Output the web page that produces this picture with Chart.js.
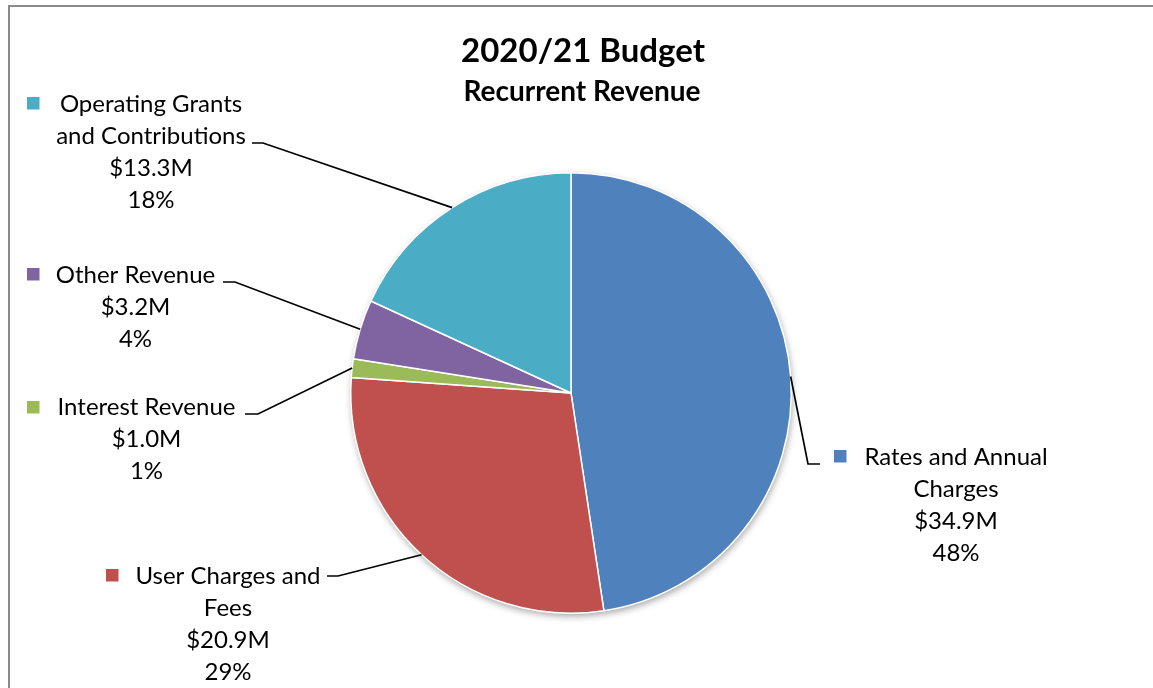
<!DOCTYPE html>
<html>
<head>
<meta charset="utf-8">
<title>2020/21 Budget - Recurrent Revenue</title>
<script src="https://cdn.jsdelivr.net/npm/chart.js@4/dist/chart.umd.min.js"></script>
<style>
  html, body { margin: 0; padding: 0; background: #ffffff; }
  #wrap { width: 1153px; height: 688px; position: relative; }
  canvas { display: block; }
</style>
</head>
<body>
<div id="wrap"><canvas id="chart" width="1153" height="688"></canvas></div>
<script>
// Revenue categories, in drawing order (clockwise from 12 o'clock)
const categories = [
  'Rates and Annual Charges',
  'User Charges and Fees',
  'Interest Revenue',
  'Other Revenue',
  'Operating Grants and Contributions'
];
// Wrapped label text for each category
const labelLines = [
  ['Rates and Annual', 'Charges'],
  ['User Charges and', 'Fees'],
  ['Interest Revenue'],
  ['Other Revenue'],
  ['Operating Grants', 'and Contributions']
];
// Amounts in $ millions
const revenueMillions = [34.9, 20.9, 1.0, 3.2, 13.3];
const sliceColors = ['#4F81BD', '#C0504D', '#9BBB59', '#8064A2', '#4BACC6'];

const titleText = '2020/21 Budget';
const subtitleText = 'Recurrent Revenue';

// Where each callout sits: text centre x, first line centre y,
// leader elbow point and leader end point next to the text.
const calloutLayout = [
  { cx: 956,   y: 457, elbow: [808, 464], end: [820, 464], keyX: 834, keyY: 450 },
  { cx: 228,   y: 576, elbow: [338, 576], end: [327, 576], keyX: 106, keyY: 569 },
  { cx: 146.5, y: 407, elbow: [258, 414], end: [245, 414], keyX: 27,  keyY: 401 },
  { cx: 135.5, y: 275, elbow: [235, 282], end: [223, 282], keyX: 27,  keyY: 268 },
  { cx: 151,   y: 104, elbow: [263, 143], end: [252, 143], keyX: 27,  keyY: 97 }
];

const FONT = 'Lato, "Liberation Sans", sans-serif';
const total = revenueMillions.reduce((a, b) => a + b, 0);

// Soft drop shadow under the pie
const pieShadow = {
  id: 'pieShadow',
  beforeDatasetsDraw(chart) {
    const arc = chart.getDatasetMeta(0).data[0];
    if (!arc) return;
    const ctx = chart.ctx;
    ctx.save();
    ctx.shadowColor = 'rgba(0,0,0,0.35)';
    ctx.shadowBlur = 7;
    ctx.shadowOffsetX = 1;
    ctx.shadowOffsetY = 3;
    ctx.fillStyle = '#ffffff';
    ctx.beginPath();
    ctx.arc(arc.x, arc.y, arc.outerRadius, 0, Math.PI * 2);
    ctx.fill();
    ctx.restore();
  }
};

// Frame, titles and callout labels with leader lines
const decorations = {
  id: 'decorations',
  beforeDraw(chart) {
    const ctx = chart.ctx;
    ctx.save();
    ctx.fillStyle = '#ffffff';
    ctx.fillRect(0, 0, chart.width, chart.height);
    ctx.strokeStyle = '#8a8a8a';
    ctx.lineWidth = 2;
    ctx.strokeRect(9, 6, chart.width + 20, chart.height + 20);
    ctx.restore();
  },
  afterDatasetsDraw(chart) {
    const ctx = chart.ctx;
    const meta = chart.getDatasetMeta(0);
    ctx.save();
    ctx.fillStyle = '#000000';
    ctx.textAlign = 'center';
    ctx.textBaseline = 'middle';
    ctx.font = 'bold 33px ' + FONT;
    ctx.fillText(titleText, 583, 51);
    ctx.font = 'bold 28px ' + FONT;
    ctx.fillText(subtitleText, 582, 92);

    meta.data.forEach((arc, i) => {
      const L = calloutLayout[i];
      const mid = (arc.startAngle + arc.endAngle) / 2;
      const ax = arc.x + Math.cos(mid) * arc.outerRadius;
      const ay = arc.y + Math.sin(mid) * arc.outerRadius;
      // leader line
      ctx.strokeStyle = '#000000';
      ctx.lineWidth = 1.7;
      ctx.beginPath();
      ctx.moveTo(ax, ay);
      ctx.lineTo(L.elbow[0], L.elbow[1]);
      ctx.lineTo(L.end[0], L.end[1]);
      ctx.stroke();
      // text lines
      const v = revenueMillions[i];
      const lines = labelLines[i].concat(['$' + v.toFixed(1) + 'M', Math.round(v / total * 100) + '%']);
      ctx.font = '24px ' + FONT;
      ctx.fillStyle = '#000000';
      lines.forEach((t, k) => ctx.fillText(t, L.cx, L.y + k * 32));
      // legend key square
      ctx.fillStyle = sliceColors[i];
      ctx.fillRect(L.keyX, L.keyY, 12.5, 12.5);
    });
    ctx.restore();
  }
};

new Chart(document.getElementById('chart'), {
  type: 'pie',
  data: {
    labels: categories,
    datasets: [{
      data: revenueMillions,
      backgroundColor: sliceColors,
      borderColor: '#ffffff',
      borderWidth: 1.5
    }]
  },
  options: {
    responsive: false,
    animation: false,
    devicePixelRatio: 1,
    layout: { padding: { top: 172, bottom: 74, left: 349, right: 360 } },
    plugins: {
      legend: { display: false },
      tooltip: { enabled: false },
      title: { display: false }
    }
  },
  plugins: [pieShadow, decorations]
});
</script>
</body>
</html>
